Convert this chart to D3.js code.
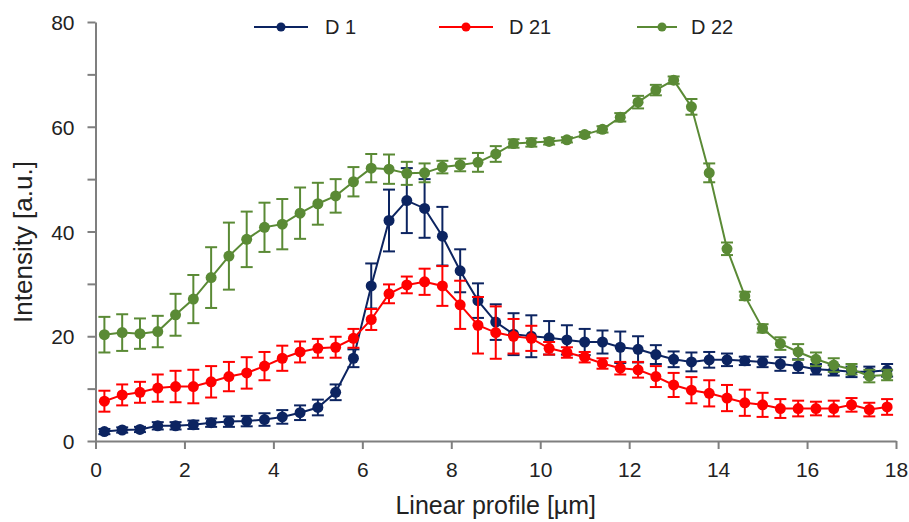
<!DOCTYPE html>
<html>
<head>
<meta charset="utf-8">
<script src="https://cdn.jsdelivr.net/npm/d3@7"></script>
<style>
  body { margin: 0; background: #fff; }
  text { font-family: "Liberation Sans", Arial, sans-serif; fill: #222; }
</style>
</head>
<body>
<svg id="svg" width="909" height="522"></svg>
<script>
(function() {

// profile positions (µm)
var xs = [0.2, 0.6, 1.0, 1.4, 1.8, 2.2, 2.6, 3.0, 3.4, 3.8, 4.2, 4.6, 5.0, 5.4, 5.8,
  6.2, 6.6, 7.0, 7.4, 7.8, 8.2, 8.6, 9.0, 9.4, 9.8, 10.2, 10.6, 11.0, 11.4, 11.8,
  12.2, 12.6, 13.0, 13.4, 13.8, 14.2, 14.6, 15.0, 15.4, 15.8, 16.2, 16.6, 17.0, 17.4, 17.8];

var d1 = [1.8, 2.1, 2.2, 2.9, 2.9, 3.1, 3.5, 3.7, 3.8, 4.1, 4.6, 5.4, 6.4, 9.3, 15.8,
  29.6, 42.1, 45.9, 44.4, 39.1, 32.5, 26.8, 22.7, 20.4, 20.0, 19.7, 19.3, 18.9, 18.9, 17.9,
  17.5, 16.5, 15.6, 15.1, 15.5, 15.5, 15.3, 15.1, 14.7, 14.3, 13.7, 13.5, 13.2, 13.2, 13.5];
var d1Err = [0.5, 0.5, 0.5, 0.7, 0.7, 0.8, 0.8, 1.0, 1.0, 1.2, 1.3, 1.4, 1.5, 1.5, 1.7,
  4.3, 5.9, 6.2, 5.6, 5.6, 4.1, 3.3, 3.4, 4.0, 4.0, 3.2, 2.8, 2.5, 2.2, 3.0,
  2.5, 1.8, 1.5, 1.8, 1.5, 1.2, 0.8, 1.0, 1.3, 1.3, 1.0, 1.0, 1.0, 1.0, 1.2];

var d21 = [7.6, 8.8, 9.3, 10.1, 10.4, 10.4, 11.3, 12.3, 13.0, 14.3, 15.8, 17.0, 17.7, 17.9, 19.6,
  23.2, 28.1, 29.8, 30.4, 29.6, 26.0, 22.1, 20.7, 20.0, 19.6, 17.7, 16.9, 16.0, 14.8, 13.9,
  13.6, 12.3, 10.7, 9.7, 9.1, 8.2, 7.3, 6.9, 6.2, 6.2, 6.2, 6.2, 6.9, 6.0, 6.5];
var d21Err = [2.0, 2.0, 2.0, 2.6, 3.0, 3.2, 3.0, 2.8, 3.0, 2.7, 2.4, 2.0, 1.8, 2.0, 1.8,
  2.0, 1.8, 1.6, 2.5, 3.8, 4.6, 5.4, 5.0, 3.3, 2.4, 1.2, 1.0, 1.0, 1.0, 1.2,
  1.5, 2.0, 2.3, 2.5, 2.5, 2.5, 2.5, 2.3, 1.8, 1.5, 1.3, 1.5, 1.3, 1.3, 1.5];

var d22 = [20.3, 20.7, 20.5, 20.9, 24.1, 27.1, 31.2, 35.3, 38.5, 40.8, 41.4, 43.5, 45.3, 46.8, 49.5,
  52.1, 51.9, 51.1, 51.2, 52.3, 52.7, 53.2, 54.8, 56.8, 57.0, 57.2, 57.5, 58.5, 59.5, 61.8,
  64.7, 67.0, 68.9, 63.8, 51.2, 36.7, 27.7, 21.5, 18.6, 17.0, 15.6, 14.5, 13.7, 12.4, 12.6];
var d22Err = [3.4, 3.5, 2.9, 3.0, 4.0, 4.6, 5.8, 6.4, 5.3, 4.7, 4.8, 4.9, 4.0, 3.2, 2.8,
  2.7, 2.8, 2.2, 1.8, 1.2, 1.2, 1.8, 1.5, 0.8, 0.8, 0.6, 0.5, 0.5, 0.6, 0.8,
  1.2, 1.0, 0.7, 1.5, 1.8, 1.2, 0.8, 0.8, 1.2, 1.5, 1.3, 1.3, 1.0, 1.2, 1.0];

var seriesNames = ['D 1', 'D 21', 'D 22'];
var seriesColors = ['#0c2461', '#ff0000', '#5a8a35'];
var seriesValues = [d1, d21, d22];
var seriesErrors = [d1Err, d21Err, d22Err];

var xTicks = [0, 2, 4, 6, 8, 10, 12, 14, 16, 18];
var yTicks = [0, 10, 20, 30, 40, 50, 60, 70, 80];
var yLabels = [0, 20, 40, 60, 80];

var svg = d3.select('#svg');

var x = d3.scaleLinear().domain([0, 18]).range([95.5, 896]);
var y = d3.scaleLinear().domain([0, 80]).range([441, 22]);

// axes
var axisColor = '#7f7f7f';
var xAxis = svg.append('g')
  .attr('transform', 'translate(0,' + y(0) + ')')
  .call(d3.axisBottom(x).tickValues(xTicks).tickSize(8).tickPadding(13).tickSizeOuter(0));
var yAxis = svg.append('g')
  .attr('transform', 'translate(' + x(0) + ',0)')
  .call(d3.axisLeft(y).tickValues(yTicks).tickSize(8).tickPadding(13).tickSizeOuter(0)
    .tickFormat(d => yLabels.indexOf(d) >= 0 ? d : ''));

[xAxis, yAxis].forEach(function(g) {
  g.select('.domain').attr('stroke', axisColor).attr('stroke-width', 2);
  g.selectAll('.tick line').attr('stroke', axisColor).attr('stroke-width', 2);
  g.selectAll('.tick text').style('font-size', '21px').attr('fill', '#222');
});
yAxis.selectAll('.tick text').attr('dy', '0.36em');

svg.append('text')
  .attr('x', x(9))
  .attr('y', 514)
  .attr('text-anchor', 'middle')
  .style('font-size', '25px')
  .text('Linear profile [µm]');

svg.append('text')
  .attr('transform', 'translate(32,242) rotate(-90)')
  .attr('text-anchor', 'middle')
  .style('font-size', '26px')
  .text('Intensity [a.u.]');

// series
var line = d3.line()
  .x((d, i) => x(xs[i]))
  .y(d => y(d));

seriesValues.forEach(function(vals, s) {
  var color = seriesColors[s];
  var errs = seriesErrors[s];
  var g = svg.append('g').attr('class', 'series');

  g.append('path')
    .datum(vals)
    .attr('fill', 'none')
    .attr('stroke', color)
    .attr('stroke-width', 2)
    .attr('d', line);

  var bars = g.selectAll('g.err')
    .data(vals)
    .enter().append('g')
    .attr('class', 'err')
    .attr('stroke', color)
    .attr('stroke-width', 2);
  bars.append('line')
    .attr('x1', (d, i) => x(xs[i]))
    .attr('x2', (d, i) => x(xs[i]))
    .attr('y1', (d, i) => y(d - errs[i]))
    .attr('y2', (d, i) => y(d + errs[i]));
  bars.append('line')
    .attr('x1', (d, i) => x(xs[i]) - 6)
    .attr('x2', (d, i) => x(xs[i]) + 6)
    .attr('y1', (d, i) => y(d + errs[i]))
    .attr('y2', (d, i) => y(d + errs[i]));
  bars.append('line')
    .attr('x1', (d, i) => x(xs[i]) - 6)
    .attr('x2', (d, i) => x(xs[i]) + 6)
    .attr('y1', (d, i) => y(d - errs[i]))
    .attr('y2', (d, i) => y(d - errs[i]));

  g.selectAll('circle')
    .data(vals)
    .enter().append('circle')
    .attr('cx', (d, i) => x(xs[i]))
    .attr('cy', d => y(d))
    .attr('r', 5.5)
    .attr('fill', color);
});

// legend
var legendX = [254, 439, 637];
var legendLen = [54, 54, 40];
var legendText = [71, 70, 54];
var legend = svg.selectAll('g.legend')
  .data(seriesNames)
  .enter().append('g')
  .attr('class', 'legend')
  .attr('transform', (d, i) => 'translate(' + legendX[i] + ',27)');
legend.append('line')
  .attr('x1', 0).attr('x2', (d, i) => legendLen[i])
  .attr('stroke', (d, i) => seriesColors[i])
  .attr('stroke-width', 2);
legend.append('circle')
  .attr('cx', (d, i) => i === 2 ? 25 : 27)
  .attr('r', 4.5)
  .attr('fill', (d, i) => seriesColors[i]);
legend.append('text')
  .attr('x', (d, i) => legendText[i])
  .attr('dy', '0.36em')
  .style('font-size', '20px')
  .text(d => d);

})();
</script>
</body>
</html>
